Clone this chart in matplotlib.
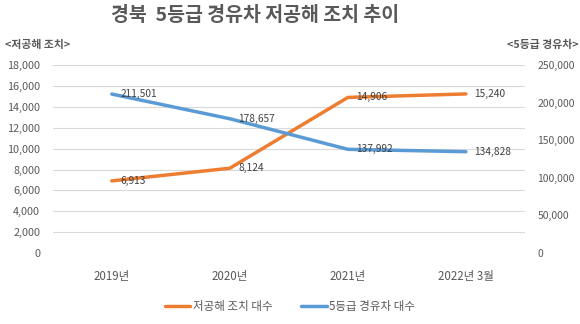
import matplotlib.pyplot as plt
import matplotlib.ticker as ticker

plt.rcParams['font.family'] = ['Noto Sans CJK KR', 'DejaVu Sans']

# ── DATA ──────────────────────────────────────────────────────────────────────
categories = ["2019년", "2020년", "2021년", "2022년 3월"]
lowemission = [6913, 8124, 14906, 15240]        # 저공해 조치 대수 (left axis)
grade5_diesel = [211501, 178657, 137992, 134828]  # 5등급 경유차 대수 (right axis)

c_orange = "#ED7D31"
c_blue = "#5B9BD5"
c_text = "#595959"
c_grid = "#D9D9D9"

fig = plt.figure(figsize=(5.8, 3.24), dpi=100)
ax1 = fig.add_axes([0.091, 0.219, 0.814, 0.580])
ax2 = ax1.twinx()

x = list(range(len(categories)))

ax1.plot(x, lowemission, color=c_orange, lw=2.5, solid_capstyle="round",
         label="저공해 조치 대수", zorder=3)
ax2.plot(x, grade5_diesel, color=c_blue, lw=2.5, solid_capstyle="round",
         label="5등급 경유차 대수", zorder=3)

for xi, v in zip(x, lowemission):
    ax1.annotate(f"{v:,}", (xi, v), xytext=(6, 0), textcoords="offset points",
                 va="center", ha="left", fontsize=7.3, color="#404040")
for xi, v in zip(x, grade5_diesel):
    ax2.annotate(f"{v:,}", (xi, v), xytext=(6, 0), textcoords="offset points",
                 va="center", ha="left", fontsize=7.3, color="#404040")

ax1.set_xlim(-0.5, 3.5)
ax1.set_ylim(0, 18000)
ax1.yaxis.set_major_locator(ticker.MultipleLocator(2000))
ax1.yaxis.set_major_formatter(ticker.FuncFormatter(lambda v, _: f"{v:,.0f}"))
ax2.set_ylim(0, 250000)
ax2.yaxis.set_major_locator(ticker.MultipleLocator(50000))
ax2.yaxis.set_major_formatter(ticker.FuncFormatter(lambda v, _: f"{v:,.0f}"))

ax1.set_xticks(x)
ax1.set_xticklabels(categories)
ax1.grid(axis="y", color=c_grid, lw=0.8)
ax1.set_axisbelow(True)

for ax in (ax1, ax2):
    for s in ax.spines.values():
        s.set_visible(False)
    ax.tick_params(length=0, colors=c_text)
ax1.tick_params(axis="x", pad=12, labelsize=8.3)
ax1.tick_params(axis="y", pad=9, labelsize=7.8)
ax2.tick_params(axis="y", pad=9, labelsize=7.5)

fig.text(0.44, 0.952, "경북  5등급 경유차 저공해 조치 추이", ha="center", va="center",
         fontsize=14, fontweight="bold", color=c_text)
fig.text(0.008, 0.86, "<저공해 조치>", ha="left", va="center", fontsize=7.8,
         fontweight="bold", color=c_text)
fig.text(0.997, 0.86, "<5등급 경유차>", ha="right", va="center", fontsize=7.8,
         fontweight="bold", color=c_text)

h1, l1 = ax1.get_legend_handles_labels()
h2, l2 = ax2.get_legend_handles_labels()
fig.legend(h1 + h2, l1 + l2, loc="center", bbox_to_anchor=(0.5, 0.055), ncol=2,
           frameon=False, fontsize=8.3, labelcolor=c_text, handlelength=2.2,
           handletextpad=0.2, columnspacing=2.5)

fig.savefig("out.png", dpi=100)
